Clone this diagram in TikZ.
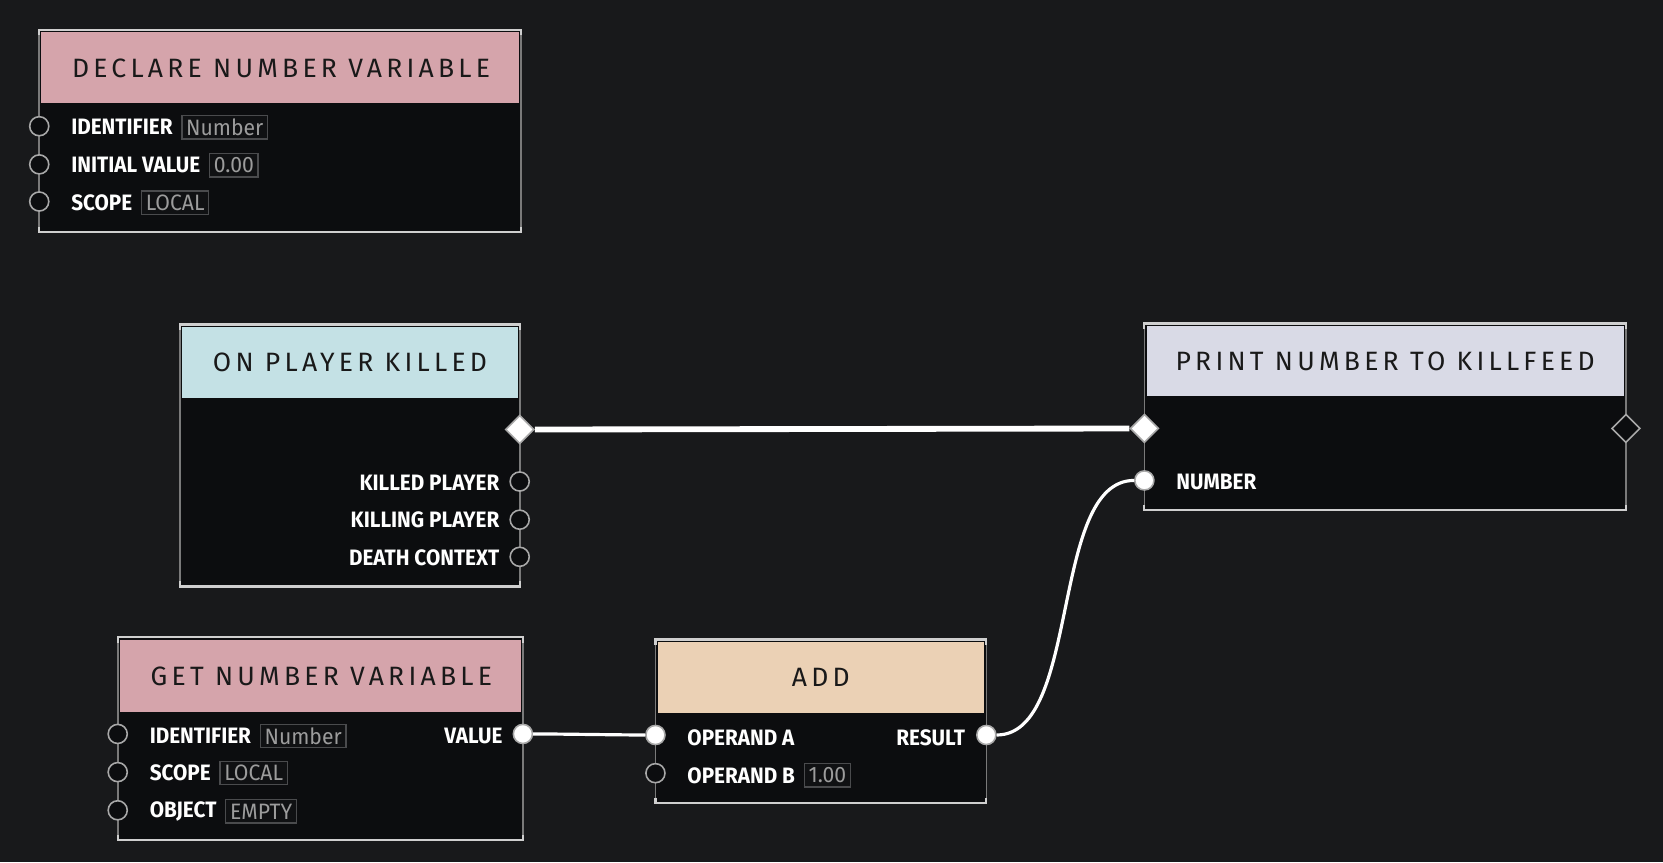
\documentclass[tikz,border=0pt]{standalone}
\usepackage{fontspec}
\setmainfont{Fira Sans}
\newfontfamily\lblfont{Fira Sans}[FakeStretch=0.93]
\newfontfamily\valfont{Fira Sans}[FakeStretch=0.95]
\newfontfamily\hdrfont{Fira Sans}[LetterSpace=16]
\usetikzlibrary{shapes.geometric}
\definecolor{bgc}{HTML}{18191B}
\definecolor{bodyc}{HTML}{0C0D0F}
\definecolor{sidec}{HTML}{7A7A7A}
\definecolor{edgec}{HTML}{CFCFCF}
\definecolor{pinkc}{HTML}{D5A4AB}
\definecolor{bluec}{HTML}{C4E1E5}
\definecolor{lavc}{HTML}{D9DAE6}
\definecolor{peachc}{HTML}{EBD1B5}
\definecolor{portc}{HTML}{A8A8A8}
\definecolor{valc}{HTML}{9C9C9C}
\definecolor{valbd}{HTML}{4A4B4D}
\newcommand\nodeframe[6]{%
  \fill[bodyc] (#1,#2) rectangle (#3,#4);
  \fill[#6] ({#1+2},{#2+2}) rectangle ({#3-2},#5);
  \draw[sidec, line width=1.6pt] (#1,#2) -- (#1,#4) (#3,#2) -- (#3,#4);
  \draw[edgec, line width=2pt] (#1,{#2+5}) -- (#1,#2) -- (#3,#2) -- (#3,{#2+5});
  \draw[edgec, line width=2pt] (#1,{#4-5}) -- (#1,#4) -- (#3,#4) -- (#3,{#4-5});
}
\tikzset{
  hdr/.style={inner sep=0pt, text=black!90, font=\hdrfont\fontsize{25}{28}\selectfont},
  lbl/.style={inner sep=0pt, text=white, font=\lblfont\bfseries\fontsize{21}{24}\selectfont},
  valbox/.style={draw=valbd, line width=1.2pt, fill=bodyc!70!bgc, text=valc, inner xsep=4pt,
    inner ysep=0pt, minimum height=22pt, font=\valfont\fontsize{21}{22}\selectfont},
  port/.style={circle, draw=portc, line width=1.5pt, fill=bodyc, minimum size=18pt, inner sep=0pt},
  portf/.style={port, fill=white},
  execd/.style={diamond, aspect=1, draw=portc, line width=1.5pt, fill=bodyc, minimum size=27pt, inner sep=0pt},
  execdf/.style={execd, fill=white},
  execw/.style={white, line width=5.5pt},
  dataw/.style={white, line width=3pt},
}
\begin{document}
\begin{tikzpicture}[x=1pt,y=-1pt]
\fill[bgc] (0,0) rectangle (1568,813);
\useasboundingbox (0,0) rectangle (1568,813);

% ---- DECLARE NUMBER VARIABLE
\nodeframe{37}{28}{491}{219}{97}{pinkc}
\node[hdr] (declT) at (265,64) {DECLARE NUMBER VARIABLE};
\node[lbl, anchor=west] (dId) at (67,120) {IDENTIFIER};
\node[valbox, anchor=west] (dIdV) at ([xshift=8pt]dId.east) {Number};
\node[lbl, anchor=west] (dIv) at (67,156) {INITIAL VALUE};
\node[valbox, anchor=west] (dIvV) at ([xshift=8pt]dIv.east) {0.00};
\node[lbl, anchor=west] (dSc) at (67,191) {SCOPE};
\node[valbox, anchor=west] (dScV) at ([xshift=8pt]dSc.east) {LOCAL};
\node[port] (dP1) at (37,119) {};
\node[port] (dP2) at (37,155) {};
\node[port] (dP3) at (37,190) {};

% ---- ON PLAYER KILLED
\nodeframe{170}{306}{490}{553}{375}{bluec}
\node[hdr] (opkT) at (330,342) {ON PLAYER KILLED};
\node[lbl, anchor=east] (kd) at (471,455) {KILLED PLAYER};
\node[lbl, anchor=east] (kg) at (471,490) {KILLING PLAYER};
\node[lbl, anchor=east] (dc) at (471,526) {DEATH CONTEXT};
\node[execdf] (opkX) at (490,405) {};
\node[port] (opkP1) at (490,454) {};
\node[port] (opkP2) at (490,490) {};
\node[port] (opkP3) at (490,525) {};

% ---- PRINT NUMBER TO KILLFEED
\nodeframe{1079}{305}{1533}{481}{373}{lavc}
\node[hdr] (prT) at (1306,341) {PRINT NUMBER TO KILLFEED};
\node[lbl, anchor=west] (prN) at (1109,454) {NUMBER};
\node[execdf] (prXin) at (1079,404) {};
\node[execd] (prXout) at (1533,404) {};
\node[portf] (prP) at (1079,453) {};

% ---- GET NUMBER VARIABLE
\nodeframe{111}{601}{493}{792}{671}{pinkc}
\node[hdr] (gnT) at (303,638) {GET NUMBER VARIABLE};
\node[lbl, anchor=west] (gId) at (141,694) {IDENTIFIER};
\node[valbox, anchor=west] (gIdV) at ([xshift=8pt]gId.east) {Number};
\node[lbl, anchor=west] (gSc) at (141,729) {SCOPE};
\node[valbox, anchor=west] (gScV) at ([xshift=8pt]gSc.east) {LOCAL};
\node[lbl, anchor=west] (gOb) at (141,765) {OBJECT};
\node[valbox, anchor=west] (gObV) at ([xshift=8pt]gOb.east) {EMPTY};
\node[lbl, anchor=east] (gVal) at (474,694) {VALUE};
\node[port] (gP1) at (111,692) {};
\node[port] (gP2) at (111,728) {};
\node[port] (gP3) at (111,764) {};
\node[portf] (gPv) at (493,692) {};

% ---- ADD
\nodeframe{618}{603}{930}{757}{672}{peachc}
\node[hdr] (addT) at (774,639) {ADD};
\node[lbl, anchor=west] (aA) at (648,696) {OPERAND A};
\node[lbl, anchor=west] (aB) at (648,731) {OPERAND B};
\node[valbox, anchor=west] (aBV) at ([xshift=8pt]aB.east) {1.00};
\node[lbl, anchor=east] (aR) at (910,696) {RESULT};
\node[portf] (aPa) at (618,693) {};
\node[port] (aPb) at (618,729) {};
\node[portf] (aPr) at (930,693) {};

% ---- wires
\draw[execw] (opkX) -- (prXin);
\draw[dataw] (gPv) to[out=0, in=180, looseness=0.6] (aPa);
\draw[dataw] (aPr) to[out=0, in=180, looseness=0.75] (prP);
\end{tikzpicture}
\end{document}
